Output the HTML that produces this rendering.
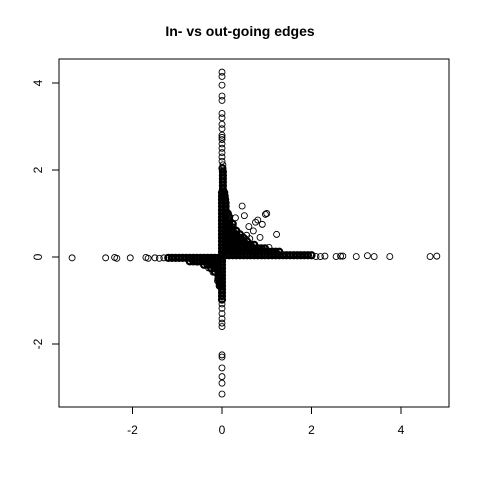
<!DOCTYPE html>
<html><head><meta charset="utf-8"><style>
body{margin:0;background:#fff}
svg{display:block;font-family:"Liberation Sans",sans-serif}
</style></head><body>
<svg id="chart" width="480" height="480">
<rect width="480" height="480" fill="#fff"/>
<text x="240" y="36" text-anchor="middle" font-size="14" font-weight="bold">In- vs out-going edges</text>
<rect x="59" y="59" width="390" height="348" fill="none" stroke="#000"/>
<g id="axes"></g>
<g id="core" fill="none" stroke="#000" stroke-width="2.2"></g>
<g id="points" fill="none" stroke="#000" stroke-width="0.9"></g>
</svg>
<script>
const xTicks = [-2, 0, 2, 4];
const yTicks = [-2, 0, 2, 4];
const coreRows = [
 [0.04,[0,0.08,0.16,0.24,0.32,0.4,0.48,0.56,0.64,0.72,0.8,0.88,0.96,1.04,1.12,1.2,1.28,1.36,1.44,1.52,1.6,1.68,1.76,1.84,1.92,2.0]],
 [0.12,[0,0.08,0.16,0.24,0.32,0.4,0.48,0.56,0.64,0.72,0.8,0.88,0.96,1.04,1.12,1.2,1.28]],
 [0.2,[0,0.08,0.16,0.24,0.32,0.4,0.48,0.56,0.64,0.72,0.8,0.88,0.96]],
 [0.28,[0,0.08,0.16,0.24,0.32,0.4,0.48,0.56,0.64,0.72]],
 [0.36,[0,0.08,0.16,0.24,0.32,0.4,0.48,0.56]],
 [0.44,[0,0.08,0.16,0.24,0.32,0.4,0.48]],
 [0.52,[0,0.08,0.16,0.24,0.32,0.4]],
 [0.6,[0,0.08,0.16,0.24,0.32]],
 [0.68,[0,0.08,0.16,0.24]],
 [0.76,[0,0.08,0.16,0.24]],
 [0.84,[0,0.08,0.16]],
 [0.92,[0,0.08,0.16]],
 [1.0,[0,0.08,0.13]],
 [1.08,[0,0.08]],[1.16,[0,0.08]],[1.24,[0,0.08]],[1.32,[0,0.07]],[1.4,[0,0.06]],[1.48,[0,0.05]],
 [1.56,[0.02]],[1.64,[0.02]],[1.72,[0.02]],[1.8,[0.02]],[1.88,[0.02]],[1.96,[0.02]],[2.04,[0.01]],
 [-0.02,[-1.2,-1.12,-1.04,-0.96,-0.88,-0.8,-0.72,-0.64,-0.56,-0.48,-0.4,-0.32,-0.24,-0.16,-0.08,0]],
 [-0.1,[-0.72,-0.64,-0.56,-0.48,-0.4,-0.32,-0.24,-0.16,-0.08,0]],
 [-0.18,[-0.4,-0.32,-0.24,-0.16,-0.08,0]],
 [-0.26,[-0.24,-0.16,-0.08,0]],
 [-0.34,[-0.16,-0.08,0]],
 [-0.42,[-0.08,0]],[-0.5,[-0.08,0]],[-0.58,[-0.06,0]],[-0.66,[-0.05,0]],
 [-0.74,[0]],[-0.82,[0]],[-0.9,[0]],[-0.98,[0]]
];
const upperOutliers = [[0,4.25],[0,4.15],[0,3.95],[0,3.7],[0,3.6],[0,3.3],[0,3.2],[0,3.05],[0,2.95],[0,2.8],[0,2.75],[0,2.7],[0,2.6],[0,2.5],[0,2.4],[0,2.3],[0,2.2],[0.02,2.12]];
const lowerOutliers = [[0,-1.08],[0,-1.18],[0,-1.3],[0,-1.42],[0,-1.52],[0,-1.6],[0,-2.25],[0,-2.3],[0,-2.55],[0,-2.75],[0,-2.9],[0,-3.15]];
const leftOutliers = [[-3.35,-0.02],[-2.6,-0.02],[-2.4,-0.01],[-2.35,-0.03],[-2.05,-0.02],[-1.7,-0.01],[-1.65,-0.03],[-1.5,-0.02],[-1.4,-0.03],[-1.3,-0.02]];
const rightOutliers = [[2.1,0.01],[2.2,0.01],[2.3,0.02],[2.55,0.01],[2.65,0.02],[2.7,0.02],[3.0,0.01],[3.25,0.03],[3.4,0.01],[3.75,0.01],[4.65,0.01],[4.8,0.02]];
const scattered = [[1.0,1.0],[0.97,0.98],[0.45,1.17],[0.8,0.85],[0.75,0.8],[0.9,0.75],[0.6,0.7],[0.7,0.6],[0.55,0.5],[0.85,0.45],[1.22,0.52],[0.5,0.95],[1.05,0.22],[-0.3,-0.25],[-0.2,-0.35],[-0.1,-0.55],[-0.55,-0.12],[0.3,0.9],[0.62,0.42]];

const sx = v => 222 + 44.75 * v;
const sy = v => 257 - 43.5 * v;
const NS = "http://www.w3.org/2000/svg";
const axes = document.getElementById('axes');
const cg = document.getElementById('core');
const pg = document.getElementById('points');
function mk(tag, attrs, parent){const e=document.createElementNS(NS,tag);for(const k in attrs)e.setAttribute(k,attrs[k]);parent.appendChild(e);return e;}
xTicks.forEach(t=>{
  const l=mk('line',{x1:sx(t),x2:sx(t),y1:407,y2:414,stroke:'#000'},axes);
  
  
  const tx=mk('text',{x:sx(t),y:434,'text-anchor':'middle','font-size':12},axes);
  tx.textContent=t;
  
  
});
yTicks.forEach(t=>{
  const l=mk('line',{x1:52,x2:59,y1:sy(t),y2:sy(t),stroke:'#000'},axes);
  
  
  const tx=mk('text',{x:42,y:sy(t),'text-anchor':'middle','font-size':12,transform:`rotate(-90 42 ${sy(t)})`},axes);
  tx.textContent=t;
  
  
});
function pt(x,y,g){
  const c=mk('circle',{cx:sx(x),cy:sy(y),r:3},g);
  
  
}
coreRows.forEach(([y,xs])=>xs.forEach(x=>pt(x,y,cg)));
[upperOutliers,lowerOutliers,leftOutliers,rightOutliers,scattered].forEach(a=>a.forEach(([x,y])=>pt(x,y,pg)));
</script>
</body></html>
